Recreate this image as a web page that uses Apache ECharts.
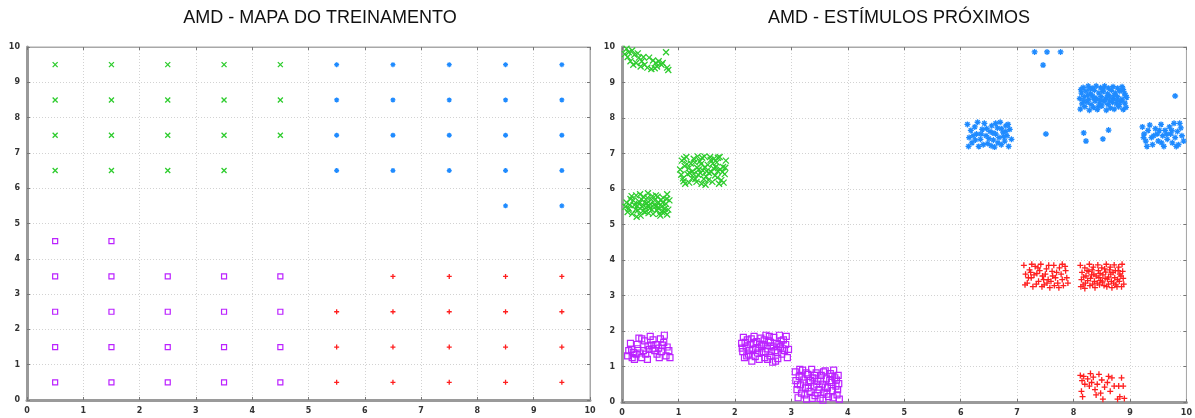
<!DOCTYPE html>
<html><head><meta charset="utf-8">
<script src="https://cdn.jsdelivr.net/npm/echarts@6/dist/echarts.min.js"></script>
<style>html,body{margin:0;padding:0;background:#fff}#c{width:1195px;height:418px}</style>
</head><body><div id="c"></div>
<script>
// ---------- DATA ----------
const titles = ['AMD - MAPA DO TREINAMENTO', 'AMD - ESTÍMULOS PRÓXIMOS'];
const axisTicks = [0,1,2,3,4,5,6,7,8,9,10];

// Left chart: training map (cell centres)
const trainGreen = [[0.5,9.5],[1.5,9.5],[2.5,9.5],[3.5,9.5],[4.5,9.5],[0.5,8.5],[1.5,8.5],[2.5,8.5],[3.5,8.5],[4.5,8.5],[0.5,7.5],[1.5,7.5],[2.5,7.5],[3.5,7.5],[4.5,7.5],[0.5,6.5],[1.5,6.5],[2.5,6.5],[3.5,6.5]];
const trainBlue = [[5.5,9.5],[6.5,9.5],[7.5,9.5],[8.5,9.5],[9.5,9.5],[5.5,8.5],[6.5,8.5],[7.5,8.5],[8.5,8.5],[9.5,8.5],[5.5,7.5],[6.5,7.5],[7.5,7.5],[8.5,7.5],[9.5,7.5],[5.5,6.5],[6.5,6.5],[7.5,6.5],[8.5,6.5],[9.5,6.5],[8.5,5.5],[9.5,5.5]];
const trainPurple = [[0.5,4.5],[1.5,4.5],[0.5,3.5],[1.5,3.5],[2.5,3.5],[3.5,3.5],[4.5,3.5],[0.5,2.5],[1.5,2.5],[2.5,2.5],[3.5,2.5],[4.5,2.5],[0.5,1.5],[1.5,1.5],[2.5,1.5],[3.5,1.5],[4.5,1.5],[0.5,0.5],[1.5,0.5],[2.5,0.5],[3.5,0.5],[4.5,0.5]];
const trainRed = [[6.5,3.5],[7.5,3.5],[8.5,3.5],[9.5,3.5],[5.5,2.5],[6.5,2.5],[7.5,2.5],[8.5,2.5],[9.5,2.5],[5.5,1.5],[6.5,1.5],[7.5,1.5],[8.5,1.5],[9.5,1.5],[5.5,0.5],[6.5,0.5],[7.5,0.5],[8.5,0.5],[9.5,0.5]];

// Right chart: nearby stimuli
const stimGreen = [
[0.08,9.95],[0.12,9.85],[0.18,9.9],[0.22,9.78],[0.1,9.72],[0.28,9.82],[0.3,9.7],[0.15,9.6],[0.25,9.55],[0.35,9.6],[0.4,9.5],[0.45,9.42],[0.52,9.38],[0.58,9.4],[0.62,9.45],[0.48,9.7],[0.55,9.62],[0.65,9.6],[0.72,9.55],[0.78,9.85],[0.8,9.42],[0.82,9.35],[0.2,9.5],[0.38,9.72],[0.7,9.5],[0.05,9.8],[0.33,9.45],[0.6,9.55],
[0.08,5.62],[0.12,5.45],[0.15,5.72],[0.18,5.3],[0.22,5.55],[0.25,5.82],[0.28,5.4],[0.3,5.65],[0.33,5.25],[0.36,5.5],[0.38,5.78],[0.41,5.35],[0.44,5.6],[0.46,5.88],[0.49,5.45],[0.52,5.7],[0.55,5.3],[0.57,5.55],[0.6,5.82],[0.62,5.4],[0.65,5.62],[0.68,5.25],[0.7,5.5],[0.73,5.75],[0.75,5.35],[0.78,5.58],[0.8,5.85],[0.82,5.42],[0.1,5.35],[0.2,5.68],[0.27,5.52],[0.35,5.7],[0.42,5.48],[0.5,5.58],[0.58,5.68],[0.64,5.48],[0.72,5.62],[0.8,5.28],[0.14,5.55],[0.24,5.42],[0.32,5.85],[0.4,5.62],[0.47,5.32],[0.54,5.8],[0.61,5.52],[0.69,5.7],[0.76,5.45],[0.84,5.68],[0.06,5.5],[0.17,5.8],[0.26,5.22],[0.37,5.38],[0.45,5.75],[0.53,5.42],[0.63,5.78],[0.71,5.35],[0.79,5.72],[0.3,5.58],[0.66,5.3],[0.48,5.52],
[1.03,6.55],[1.06,6.8],[1.08,6.3],[1.11,6.65],[1.14,6.9],[1.16,6.42],[1.19,6.18],[1.22,6.72],[1.25,6.5],[1.27,6.85],[1.3,6.28],[1.33,6.6],[1.35,6.4],[1.38,6.78],[1.41,6.15],[1.43,6.52],[1.46,6.92],[1.49,6.35],[1.52,6.68],[1.54,6.45],[1.57,6.82],[1.6,6.2],[1.62,6.58],[1.65,6.38],[1.68,6.75],[1.7,6.5],[1.73,6.9],[1.76,6.25],[1.79,6.62],[1.82,6.42],[1.84,6.8],[1.05,6.4],[1.12,6.15],[1.18,6.58],[1.24,6.3],[1.29,6.75],[1.36,6.55],[1.42,6.88],[1.47,6.62],[1.53,6.25],[1.58,6.48],[1.63,6.85],[1.69,6.32],[1.74,6.55],[1.8,6.18],[1.1,6.85],[1.2,6.45],[1.32,6.2],[1.4,6.7],[1.5,6.5],[1.56,6.9],[1.66,6.62],[1.72,6.15],[1.83,6.6],[1.15,6.7],[1.27,6.42],[1.45,6.28],[1.61,6.72],[1.78,6.48],[1.34,6.92],[1.48,6.12],[1.7,6.88],[1.09,6.22],[1.39,6.45]
];
const stimBlue = [
[7.31,9.86],[7.53,9.86],[7.77,9.86],[7.46,9.49],[9.8,8.62],[7.51,7.55],[8.18,7.58],[8.22,7.35],[8.62,7.66],[8.52,7.41],
[8.12,8.25],[8.2,8.32],[8.28,8.22],[8.35,8.3],[8.42,8.24],[8.5,8.34],[8.58,8.22],[8.65,8.28],[8.72,8.25],[8.8,8.32],[8.88,8.24],[8.93,8.3],
[8.15,8.4],[8.24,8.45],[8.31,8.38],[8.38,8.48],[8.46,8.4],[8.54,8.46],[8.61,8.38],[8.69,8.44],[8.76,8.4],[8.84,8.47],[8.91,8.42],
[8.11,8.55],[8.19,8.6],[8.27,8.52],[8.34,8.62],[8.41,8.55],[8.49,8.6],[8.56,8.52],[8.63,8.62],[8.7,8.55],[8.78,8.6],[8.86,8.53],[8.94,8.58],
[8.14,8.7],[8.22,8.76],[8.3,8.68],[8.37,8.78],[8.45,8.7],[8.52,8.75],[8.6,8.68],[8.67,8.78],[8.74,8.7],[8.82,8.76],[8.9,8.7],
[8.17,8.86],[8.26,8.9],[8.33,8.84],[8.4,8.9],[8.48,8.85],[8.55,8.9],[8.62,8.84],[8.7,8.88],[8.78,8.84],[8.86,8.88],
[8.18,8.48],[8.36,8.56],[8.53,8.82],[8.72,8.64],[8.88,8.8],[8.25,8.64],[8.44,8.32],[8.64,8.48],[8.81,8.38],[8.13,8.8],[8.47,8.5],[8.59,8.58],[8.29,8.82],[8.77,8.5],[8.92,8.64],
[6.12,7.82],[6.18,7.65],[6.15,7.45],[6.2,7.3],[6.25,7.75],[6.28,7.55],[6.32,7.2],[6.35,7.4],[6.38,7.68],[6.42,7.85],[6.45,7.5],[6.48,7.28],[6.52,7.62],[6.55,7.78],[6.58,7.38],[6.6,7.18],[6.62,7.55],[6.65,7.72],[6.68,7.45],[6.7,7.88],[6.72,7.25],[6.75,7.6],[6.78,7.35],[6.8,7.78],[6.82,7.5],[6.85,7.2],[6.87,7.68],[6.22,7.5],[6.3,7.88],[6.4,7.25],[6.5,7.42],[6.57,7.58],[6.66,7.3],[6.76,7.48],[6.84,7.82],[6.14,7.2],[6.36,7.55],[6.46,7.7],[6.62,7.85],[6.8,7.62],[6.9,7.4],[6.26,7.38],[6.54,7.22],[6.72,7.7],
[9.22,7.75],[9.25,7.55],[9.28,7.35],[9.32,7.65],[9.35,7.8],[9.38,7.45],[9.4,7.25],[9.45,7.7],[9.48,7.55],[9.5,7.35],[9.55,7.82],[9.58,7.5],[9.6,7.2],[9.62,7.65],[9.66,7.4],[9.7,7.75],[9.72,7.55],[9.75,7.3],[9.78,7.85],[9.8,7.45],[9.84,7.62],[9.86,7.25],[9.9,7.72],[9.92,7.5],[9.95,7.35],[9.3,7.2],[9.42,7.5],[9.52,7.65],[9.65,7.55],[9.82,7.2],[9.88,7.85],[9.24,7.45],[9.56,7.3],[9.74,7.65]
];
const stimRed = [
[7.12,3.85],[7.15,3.6],[7.18,3.35],[7.22,3.72],[7.25,3.5],[7.28,3.25],[7.32,3.82],[7.35,3.62],[7.38,3.4],[7.42,3.88],[7.45,3.55],[7.48,3.3],[7.52,3.75],[7.55,3.45],[7.58,3.22],[7.62,3.68],[7.65,3.85],[7.68,3.5],[7.72,3.35],[7.75,3.78],[7.78,3.6],[7.82,3.28],[7.85,3.82],[7.88,3.5],[7.2,3.5],[7.3,3.58],[7.4,3.7],[7.5,3.6],[7.6,3.4],[7.7,3.65],[7.8,3.45],[7.14,3.3],[7.26,3.88],[7.44,3.25],[7.56,3.85],[7.66,3.28],[7.86,3.7],[7.34,3.32],[7.47,3.45],[7.63,3.55],[7.74,3.22],[7.9,3.35],[7.24,3.65],[7.37,3.78],[7.53,3.35],[7.8,3.88],
[8.12,3.85],[8.15,3.65],[8.14,3.45],[8.13,3.25],[8.2,3.78],[8.22,3.55],[8.21,3.35],[8.28,3.88],[8.27,3.68],[8.3,3.48],[8.29,3.28],[8.35,3.8],[8.36,3.6],[8.37,3.4],[8.38,3.22],[8.43,3.86],[8.44,3.7],[8.45,3.5],[8.46,3.3],[8.5,3.78],[8.52,3.58],[8.51,3.38],[8.58,3.88],[8.57,3.66],[8.6,3.46],[8.59,3.25],[8.65,3.8],[8.66,3.6],[8.67,3.4],[8.68,3.22],[8.72,3.86],[8.74,3.7],[8.73,3.5],[8.75,3.3],[8.8,3.8],[8.82,3.6],[8.81,3.4],[8.86,3.88],[8.87,3.68],[8.88,3.48],[8.85,3.25],[8.18,3.52],[8.25,3.42],[8.33,3.72],[8.4,3.55],[8.48,3.42],[8.55,3.75],[8.62,3.52],[8.7,3.65],[8.78,3.45],[8.84,3.55],[8.17,3.3],[8.24,3.7],[8.32,3.58],[8.42,3.35],[8.54,3.28],[8.64,3.72],[8.71,3.35],[8.79,3.7],[8.89,3.32],[8.2,3.2],[8.47,3.62],[8.62,3.32],[8.77,3.25],[8.34,3.32],[8.56,3.48],
[8.12,0.75],[8.15,0.6],[8.18,0.72],[8.2,0.5],[8.14,0.3],[8.16,0.15],[8.25,0.65],[8.28,0.45],[8.32,0.55],[8.35,0.7],[8.38,0.35],[8.42,0.5],[8.45,0.78],[8.48,0.25],[8.5,0.62],[8.52,0.08],[8.55,0.42],[8.6,0.55],[8.65,0.3],[8.68,0.68],[8.72,0.45],[8.78,0.08],[8.8,0.45],[8.82,0.15],[8.85,0.68],[8.88,0.45],[8.9,0.1],[8.3,0.8],[8.4,0.2],[8.62,0.72]
];
const stimPurple = [
[0.1,1.3],[0.12,1.45],[0.15,1.65],[0.18,1.25],[0.2,1.4],[0.22,1.2],[0.25,1.35],[0.28,1.5],[0.3,1.8],[0.32,1.38],[0.35,1.25],[0.38,1.45],[0.4,1.72],[0.42,1.35],[0.45,1.2],[0.48,1.48],[0.5,1.85],[0.52,1.6],[0.55,1.75],[0.58,1.45],[0.6,1.62],[0.62,1.35],[0.65,1.52],[0.68,1.78],[0.7,1.42],[0.72,1.6],[0.75,1.88],[0.78,1.3],[0.8,1.55],[0.83,1.45],[0.85,1.25],[0.35,1.78],[0.27,1.62],[0.46,1.58],[0.66,1.25],[0.74,1.68],[0.55,1.5],[0.17,1.48],
[2.12,1.65],[2.14,1.42],[2.15,1.82],[2.17,1.25],[2.2,1.55],[2.22,1.75],[2.24,1.35],[2.27,1.62],[2.3,1.15],[2.32,1.48],[2.34,1.85],[2.36,1.28],[2.39,1.7],[2.41,1.52],[2.43,1.2],[2.46,1.8],[2.48,1.4],[2.5,1.62],[2.53,1.25],[2.55,1.88],[2.57,1.5],[2.6,1.72],[2.62,1.3],[2.64,1.58],[2.67,1.12],[2.69,1.82],[2.71,1.45],[2.74,1.65],[2.76,1.22],[2.79,1.88],[2.81,1.55],[2.83,1.35],[2.86,1.75],[2.88,1.45],[2.9,1.62],[2.93,1.25],[2.18,1.68],[2.26,1.45],[2.33,1.65],[2.4,1.38],[2.47,1.58],[2.54,1.42],[2.61,1.85],[2.68,1.55],[2.75,1.4],[2.82,1.72],[2.91,1.85],[2.13,1.52],[2.29,1.78],[2.44,1.62],[2.58,1.2],[2.72,1.15],[2.85,1.5],[2.37,1.5],[2.52,1.75],[2.65,1.42],[2.78,1.62],[2.95,1.48],[2.21,1.3],[2.63,1.68],
[3.07,0.85],[3.08,0.6],[3.1,0.35],[3.12,0.12],[3.14,0.72],[3.16,0.48],[3.18,0.25],[3.2,0.9],[3.22,0.62],[3.25,0.4],[3.27,0.08],[3.29,0.78],[3.31,0.55],[3.33,0.3],[3.36,0.92],[3.38,0.68],[3.4,0.45],[3.42,0.18],[3.44,0.82],[3.47,0.58],[3.49,0.35],[3.51,0.1],[3.53,0.75],[3.55,0.5],[3.58,0.28],[3.6,0.88],[3.62,0.65],[3.64,0.4],[3.66,0.15],[3.69,0.8],[3.71,0.55],[3.73,0.32],[3.75,0.9],[3.77,0.68],[3.79,0.45],[3.81,0.2],[3.83,0.75],[3.84,0.52],[3.85,0.08],[3.11,0.5],[3.19,0.7],[3.24,0.2],[3.34,0.6],[3.41,0.75],[3.46,0.25],[3.52,0.62],[3.57,0.85],[3.63,0.22],[3.68,0.6],[3.74,0.12],[3.8,0.62],[3.15,0.92],[3.3,0.4],[3.45,0.5],[3.6,0.42],[3.72,0.72],[3.37,0.1],[3.56,0.05],[3.82,0.35],[3.26,0.82]
];

// ---------- CHART ----------
const COL = {green:'#2ecc2e', blue:'#1f8bff', red:'#ff1f1f', purple:'#bb22ff'};
const SYM = {
  cross: 'path://M0,0L10,10M10,0L0,10',
  plus: 'path://M5,0L5,10M0,5L10,5',
  star: 'path://M5,0L5,10M0,5L10,5M1.5,1.5L8.5,8.5M8.5,1.5L1.5,8.5',
  square: 'rect'
};
const chart = echarts.init(document.getElementById('c'), null, {renderer:'canvas'});
const grids = [
  {left:27, top:47, width:563, height:353, show:true, borderColor:'#a8a8a8', borderWidth:1},
  {left:622, top:47, width:566, height:355, show:true, borderColor:'#a8a8a8', borderWidth:1}
];
const lbl = {fontSize:8, fontWeight:'bold', color:'#333', fontFamily:'DejaVu Sans', margin:7,
  formatter: v => axisTicks.includes(v) ? String(v) : ''};
function mainAxis(gi, pos) {
  return {type:'value', gridIndex:gi, min:0, max:10, interval:1, position:pos,
    axisLine:{show:true, onZero:false, lineStyle:{color:'#9a9a9a', width:3}},
    axisTick:{show:true, inside:true, length:3, lineStyle:{color:'#777'}},
    axisLabel:lbl,
    splitLine:{show:true, lineStyle:{color:'#d2d2d2', type:[1,2], width:1}}};
}
function sideAxis(gi, pos) {
  return {type:'value', gridIndex:gi, min:0, max:10, interval:1, position:pos,
    axisLine:{show:true, onZero:false, lineStyle:{color:'#a8a8a8', width:1}},
    axisTick:{show:true, inside:true, length:3, lineStyle:{color:'#777'}},
    axisLabel:{show:false}, splitLine:{show:false}};
}
function sc(data, xi, sym, col, size) {
  return {type:'scatter', xAxisIndex:xi, yAxisIndex:xi, data:data, symbol:SYM[sym], symbolSize:size,
    silent:true, animation:false,
    itemStyle:{color:'rgba(0,0,0,0)', borderColor:col, borderWidth: sym==='square'?1.2:1.3, opacity:1}};
}
chart.setOption({
  animation:false,
  backgroundColor:'#fff',
  graphic:[
    {type:'text', x:320, y:9, style:{text:titles[0], textAlign:'center', fill:'#111', font:'18px "Liberation Sans", Arial, sans-serif'}},
    {type:'text', x:899, y:9, style:{text:titles[1], textAlign:'center', fill:'#111', font:'18px "Liberation Sans", Arial, sans-serif'}}
  ],
  grid:grids,
  xAxis:[mainAxis(0,'bottom'), mainAxis(1,'bottom'), sideAxis(0,'top'), sideAxis(1,'top')],
  yAxis:[mainAxis(0,'left'), mainAxis(1,'left'), sideAxis(0,'right'), sideAxis(1,'right')],
  series:[
    sc(trainGreen,0,'cross',COL.green,5),
    sc(trainBlue,0,'star',COL.blue,5),
    sc(trainPurple,0,'square',COL.purple,5),
    sc(trainRed,0,'plus',COL.red,5),
    sc(stimGreen,1,'cross',COL.green,6),
    sc(stimBlue,1,'star',COL.blue,6),
    sc(stimPurple,1,'square',COL.purple,6),
    sc(stimRed,1,'plus',COL.red,6)
  ]
});
</script>
</body></html>
